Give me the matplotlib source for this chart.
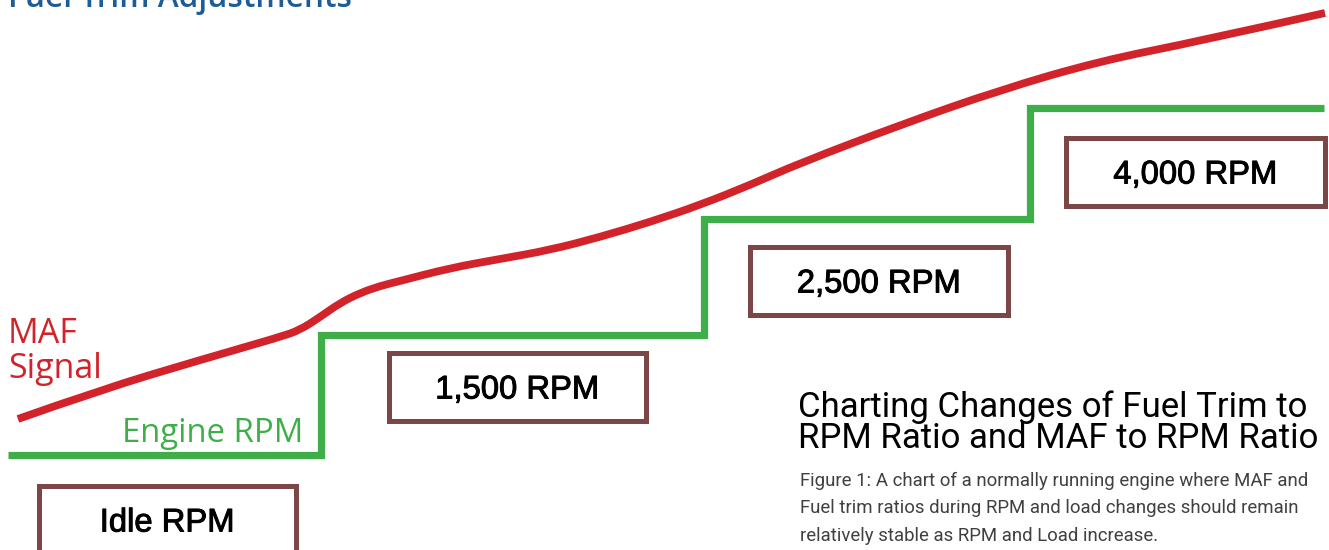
import matplotlib
matplotlib.use("Agg")
import matplotlib.pyplot as plt
import matplotlib.patheffects as pe
from matplotlib.patches import Rectangle, PathPatch
from matplotlib.path import Path

# Engine RPM trace: step edges along the time axis (%) and the level held on each step (%)
rpm_edges = [0.60, 24.15, 52.97, 77.50, 99.62]
rpm_levels = [17.27, 39.09, 60.18, 80.36]
rpm_labels = ["Idle RPM", "1,500 RPM", "2,500 RPM", "4,000 RPM"]

# MAF signal trace (time %, signal %)
maf_x = [1.35, 7.52, 15.05, 21.07, 22.57, 24.08, 25.58, 27.09, 28.59, 30.10,
         33.86, 37.62, 41.38, 45.15, 48.91, 52.67, 56.43, 60.20, 67.72,
         75.24, 82.77, 90.29, 99.70]
maf_y = [23.82, 29.09, 34.55, 38.73, 40.00, 42.36, 44.91, 46.73, 48.00, 48.91,
         51.27, 52.91, 54.55, 56.91, 59.64, 62.73, 66.36, 70.36, 77.27,
         83.64, 88.91, 92.55, 97.64]

RED = "#d2232a"
GREEN = "#3fae49"
BROWN = "#7a4646"
BLUE = "#1d5c96"

W, H = 1329, 550
fig = plt.figure(figsize=(W / 100, H / 100), dpi=100)
ax = fig.add_axes([0, 0, 1, 1])
ax.set_xlim(0, 100)
ax.set_ylim(0, 100)
ax.axis("off")


def fx(px):
    return px / W


def fy(py):
    return 1 - py / H


def smooth_path(xs, ys):
    """Quadratic Bezier path passing through the midpoints of the readings,
    using the readings themselves as control points."""
    pts = list(zip(xs, ys))
    verts = [pts[0]]
    codes = [Path.MOVETO]
    for i in range(1, len(pts) - 1):
        mid = ((pts[i][0] + pts[i + 1][0]) / 2, (pts[i][1] + pts[i + 1][1]) / 2)
        if i == len(pts) - 2:
            mid = pts[-1]
        verts += [pts[i], mid]
        codes += [Path.CURVE3, Path.CURVE3]
    return Path(verts, codes)


ax.stairs(rpm_levels, rpm_edges, baseline=None, color=GREEN, lw=5.2,
          joinstyle="miter")
ax.add_patch(PathPatch(smooth_path(maf_x, maf_y), facecolor="none",
                       edgecolor=RED, lw=5.6, capstyle="butt",
                       joinstyle="round"))

# labelled boxes under each RPM step (outer pixel bounds)
boxes = [(36, 483, 298, 556), (386, 350, 648, 423),
         (747, 244, 1010, 317), (1063, 135, 1327, 208)]
heavier = [pe.withStroke(linewidth=0.7, foreground="black")]
for (x0, y0, x1, y1), lab in zip(boxes, rpm_labels):
    lw_px = 5
    rect = Rectangle((fx(x0 + lw_px / 2), fy(y1 - lw_px / 2)),
                     fx(x1 - x0 - lw_px), (y1 - y0 - lw_px) / H,
                     transform=fig.transFigure, fill=False,
                     edgecolor=BROWN, lw=lw_px * 0.72, clip_on=False)
    fig.add_artist(rect)
    fig.text(fx((x0 + x1) / 2), fy((y0 + y1) / 2), lab,
             family="Liberation Sans", fontsize=23.6, color="black",
             ha="center", va="center_baseline", path_effects=heavier)

# series labels
fig.text(fx(8), fy(343), "MAF", family="Open Sans", fontsize=24.5,
         color=RED, ha="left", va="baseline")
fig.text(fx(8), fy(378), "Signal", family="Open Sans", fontsize=24.5,
         color=RED, ha="left", va="baseline")
fig.text(fx(122), fy(442), "Engine RPM", family="Open Sans", fontsize=23.7,
         color=GREEN, ha="left", va="baseline")

# page heading
fig.text(fx(8), fy(7), "Fuel Trim Adjustments", family="Open Sans",
         fontweight="semibold", fontsize=22.8, color=BLUE, ha="left",
         va="baseline")

# chart title and caption
fig.text(fx(798), fy(417), "Charting Changes of Fuel Trim to", family="Roboto",
         fontsize=25, color="black", ha="left", va="baseline")
fig.text(fx(798), fy(448), "RPM Ratio and MAF to RPM Ratio", family="Roboto",
         fontsize=25, color="black", ha="left", va="baseline")
caption = ["Figure 1: A chart of a normally running engine where MAF and",
           "Fuel trim ratios during RPM and load changes should remain",
           "relatively stable as RPM and Load increase."]
for i, line in enumerate(caption):
    fig.text(fx(800), fy(486 + 27.3 * i), line, family="Roboto",
             fontsize=13.4, color="#404040", ha="left", va="baseline")

fig.savefig("out.png", dpi=100)
